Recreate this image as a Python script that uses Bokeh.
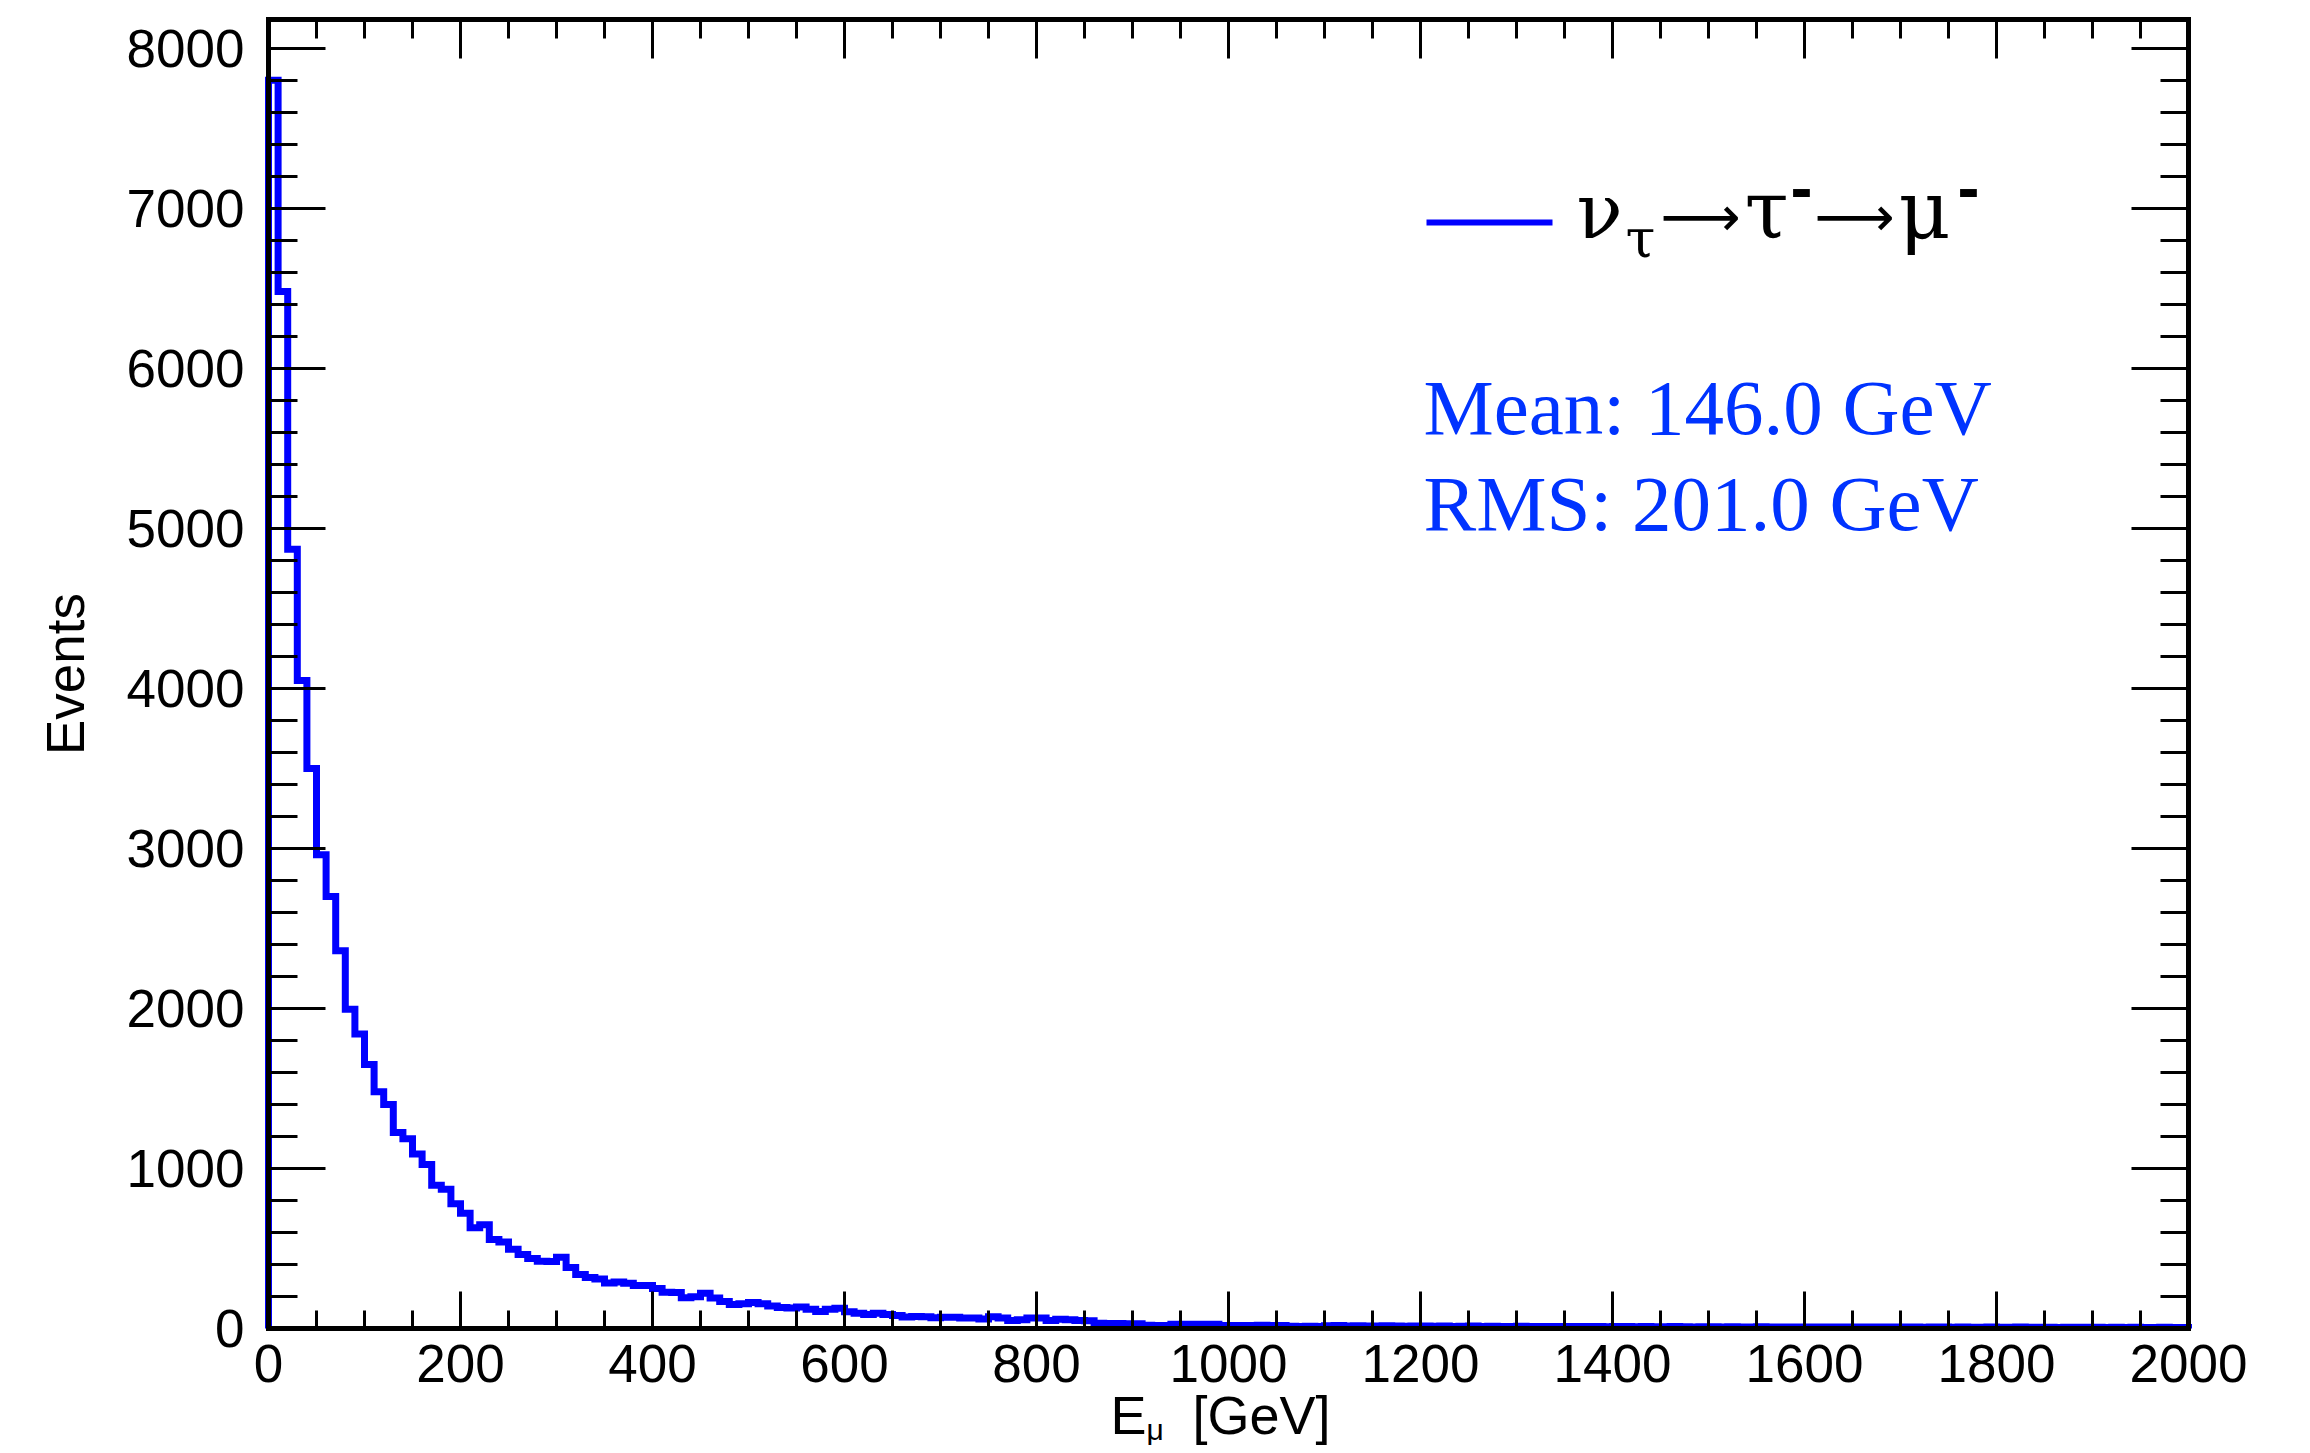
import math
import numpy as np
from bokeh.plotting import figure
from bokeh.models import Range1d, LinearAxis, SingleIntervalTicker, Label, BoxAnnotation
from bokeh.embed import file_html
from bokeh.resources import INLINE

# ---------------- data ----------------
bin_width = 10  # GeV
x_limits = (0, 2000)
y_limits = (0, 8180)

counts = [
    7800, 6480, 4870, 4050, 3500, 2960, 2700, 2360, 1995, 1840,
    1650, 1480, 1400, 1225, 1185, 1090, 1025, 895, 870, 780,
    720, 630, 648, 556, 540, 496, 463, 438, 420, 418,
    445, 381, 338, 318, 310, 285, 290, 282, 268, 268,
    250, 227, 225, 192, 198, 220, 190, 168, 150, 155,
    162, 155, 140, 132, 128, 135, 120, 106, 120, 126,
    104, 95, 88, 95, 87, 82, 72, 75, 74, 67,
    70, 70, 66, 66, 60, 74, 66, 50, 54, 66,
    66, 50, 58, 54, 50, 48, 33, 31, 31, 30,
    30, 20, 19, 19, 27, 27, 26, 27, 26, 19,
    19, 18, 19, 20, 18, 19, 14, 13, 14, 12,
    17, 18, 16, 17, 15, 16, 17, 15, 14, 15,
    15, 14, 15, 13, 14, 15, 13, 14, 13, 13,
    14, 12, 13, 13, 12, 13, 12, 12, 13, 11,
    12, 12, 11, 12, 11, 11, 12, 11, 10, 11,
    11, 10, 11, 10, 10, 11, 10, 10, 9, 10,
    10, 9, 10, 9, 10, 9, 9, 10, 9, 9,
    9, 9, 8, 9, 9, 8, 9, 8, 8, 9,
    8, 8, 9, 8, 8, 8, 7, 8, 8, 8,
    8, 7, 8, 7, 8, 7, 7, 8, 7, 7,
]

x_title = ("E", "\u03bc", "[GeV]")
y_title = "Events"
legend_parts = ("\u03bd", "\u03c4", "\u27f6", "\u03c4", "-", "\u27f6", "\u03bc", "-")
stats_lines = ("Mean: 146.0 GeV", "RMS: 201.0 GeV")

# ---------------- histogram outline ----------------
edges = x_limits[0] + bin_width * np.arange(len(counts) + 1)
xs = np.repeat(edges, 2)
ys = np.concatenate([[0], np.repeat(counts, 2), [0]])

# ---------------- layout (page pixels) ----------------
BOX_L, BOX_R, BOX_T, BOX_B = 268, 2188, 19, 1328   # drawn axes box
CANVAS_W, CANVAS_H = 2302, 1445
FL, FB = 0, CANVAS_H                                # frame = whole canvas below the top border
BASE_FIX = 0.38                                     # empirical baseline correction (em)

px_per_x = (BOX_R - BOX_L) / (x_limits[1] - x_limits[0])
px_per_y = (BOX_B - BOX_T) / (y_limits[1] - y_limits[0])
x_start = x_limits[0] - BOX_L / px_per_x
x_end = x_limits[1] + (CANVAS_W - BOX_R) / px_per_x
y_start = y_limits[0] - (CANVAS_H - BOX_B) / px_per_y

p = figure(
    frame_width=CANVAS_W, frame_height=CANVAS_H - BOX_T,
    min_border_left=0, min_border_right=0,
    min_border_top=BOX_T, min_border_bottom=0,
    x_range=Range1d(x_start, x_end), y_range=Range1d(y_start, y_limits[1]),
    output_backend="svg", toolbar_location=None,
    background_fill_color="white", border_fill_color="white",
)
p.grid.visible = False
p.outline_line_color = None

p.line(xs, ys, line_color="#0000ff", line_width=7, line_join="miter")

TICK_FONT = "Liberation Sans"


def style_axis(ax, major_in, minor_in, show_labels=True):
    ax.axis_line_color = "black"
    ax.axis_line_width = 5
    ax.axis_line_cap = "square"
    ax.major_tick_in = major_in
    ax.major_tick_out = 0
    ax.minor_tick_in = minor_in
    ax.minor_tick_out = 0
    ax.major_tick_line_width = 3
    ax.minor_tick_line_width = 3
    ax.major_tick_line_color = "black"
    ax.minor_tick_line_color = "black"
    if show_labels:
        ax.major_label_text_font = TICK_FONT
        ax.major_label_text_font_size = "53px"
        ax.major_label_text_color = "black"
    else:
        ax.major_label_text_font_size = "1px"
        ax.major_label_text_color = None
        ax.major_label_standoff = 0


xb = p.xaxis[0]
xb.ticker = SingleIntervalTicker(interval=200, num_minor_ticks=4)
xb.bounds = x_limits
xb.fixed_location = y_limits[0]
style_axis(xb, 37, 18)
xb.major_label_standoff = 16

yl = p.yaxis[0]
yl.ticker = SingleIntervalTicker(interval=1000, num_minor_ticks=5)
yl.bounds = y_limits
yl.fixed_location = x_limits[0]
style_axis(yl, 57, 29)
yl.major_label_standoff = 24

xt = LinearAxis(ticker=SingleIntervalTicker(interval=200, num_minor_ticks=4), bounds=x_limits)
style_axis(xt, 39, 19, show_labels=False)
p.add_layout(xt, "above")

yr = LinearAxis(ticker=SingleIntervalTicker(interval=1000, num_minor_ticks=5), bounds=y_limits,
                fixed_location=x_limits[1])
style_axis(yr, 57, 28, show_labels=False)
p.add_layout(yr, "right")


def add_text(txt, fx, fy, size, font, color="black", style="normal", angle=0.0, align="left"):
    # (fx, fy): page position of the text baseline start
    dx, dy = 0.0, BASE_FIX * size
    if angle:
        dx, dy = -BASE_FIX * size, 0.0
    p.add_layout(Label(
        x=fx - FL + dx, y=FB - fy + dy, x_units="screen", y_units="screen",
        text=txt, text_font=font, text_font_size=f"{size}px",
        text_color=color, text_font_style=style, angle=angle,
        text_baseline="alphabetic", text_align=align,
    ))


# axis titles
add_text(y_title, 85, (BOX_T + BOX_B) / 2, 53, TICK_FONT, angle=math.pi / 2, align="center")
add_text(x_title[0], 1110, 1435, 54, TICK_FONT)
add_text(x_title[1], 1146, 1440, 30, TICK_FONT)
add_text(x_title[2], 1192, 1435, 54, TICK_FONT)

# legend: sample line + nu_tau -> tau^- -> mu^-
p.add_layout(BoxAnnotation(
    left=1426 - FL, right=1552 - FL, bottom=FB - 225, top=FB - 219,
    left_units="screen", right_units="screen", bottom_units="screen", top_units="screen",
    fill_color="#0000ff", fill_alpha=1.0, line_color=None,
))
GREEK_FONT = "DejaVu Serif"
ARROW_FONT = "DejaVu Sans"
add_text(legend_parts[0], 1576, 240, 76, GREEK_FONT)
add_text(legend_parts[1], 1625, 259, 54, GREEK_FONT)
add_text(legend_parts[2], 1660, 237, 56, ARROW_FONT)
add_text(legend_parts[3], 1744, 240, 80, GREEK_FONT)
add_text(legend_parts[4], 1790, 212, 66, TICK_FONT, style="bold")
add_text(legend_parts[5], 1814, 237, 56, ARROW_FONT)
add_text(legend_parts[6], 1898, 240, 80, GREEK_FONT)
add_text(legend_parts[7], 1957, 212, 66, TICK_FONT, style="bold")

# statistics text
STAT_FONT = "Liberation Serif"
add_text(stats_lines[0], 1423, 437, 79, STAT_FONT, color="#0033ff")
add_text(stats_lines[1], 1423, 533, 79, STAT_FONT, color="#0033ff")

open("out.html", "w").write(file_html(p, INLINE))
